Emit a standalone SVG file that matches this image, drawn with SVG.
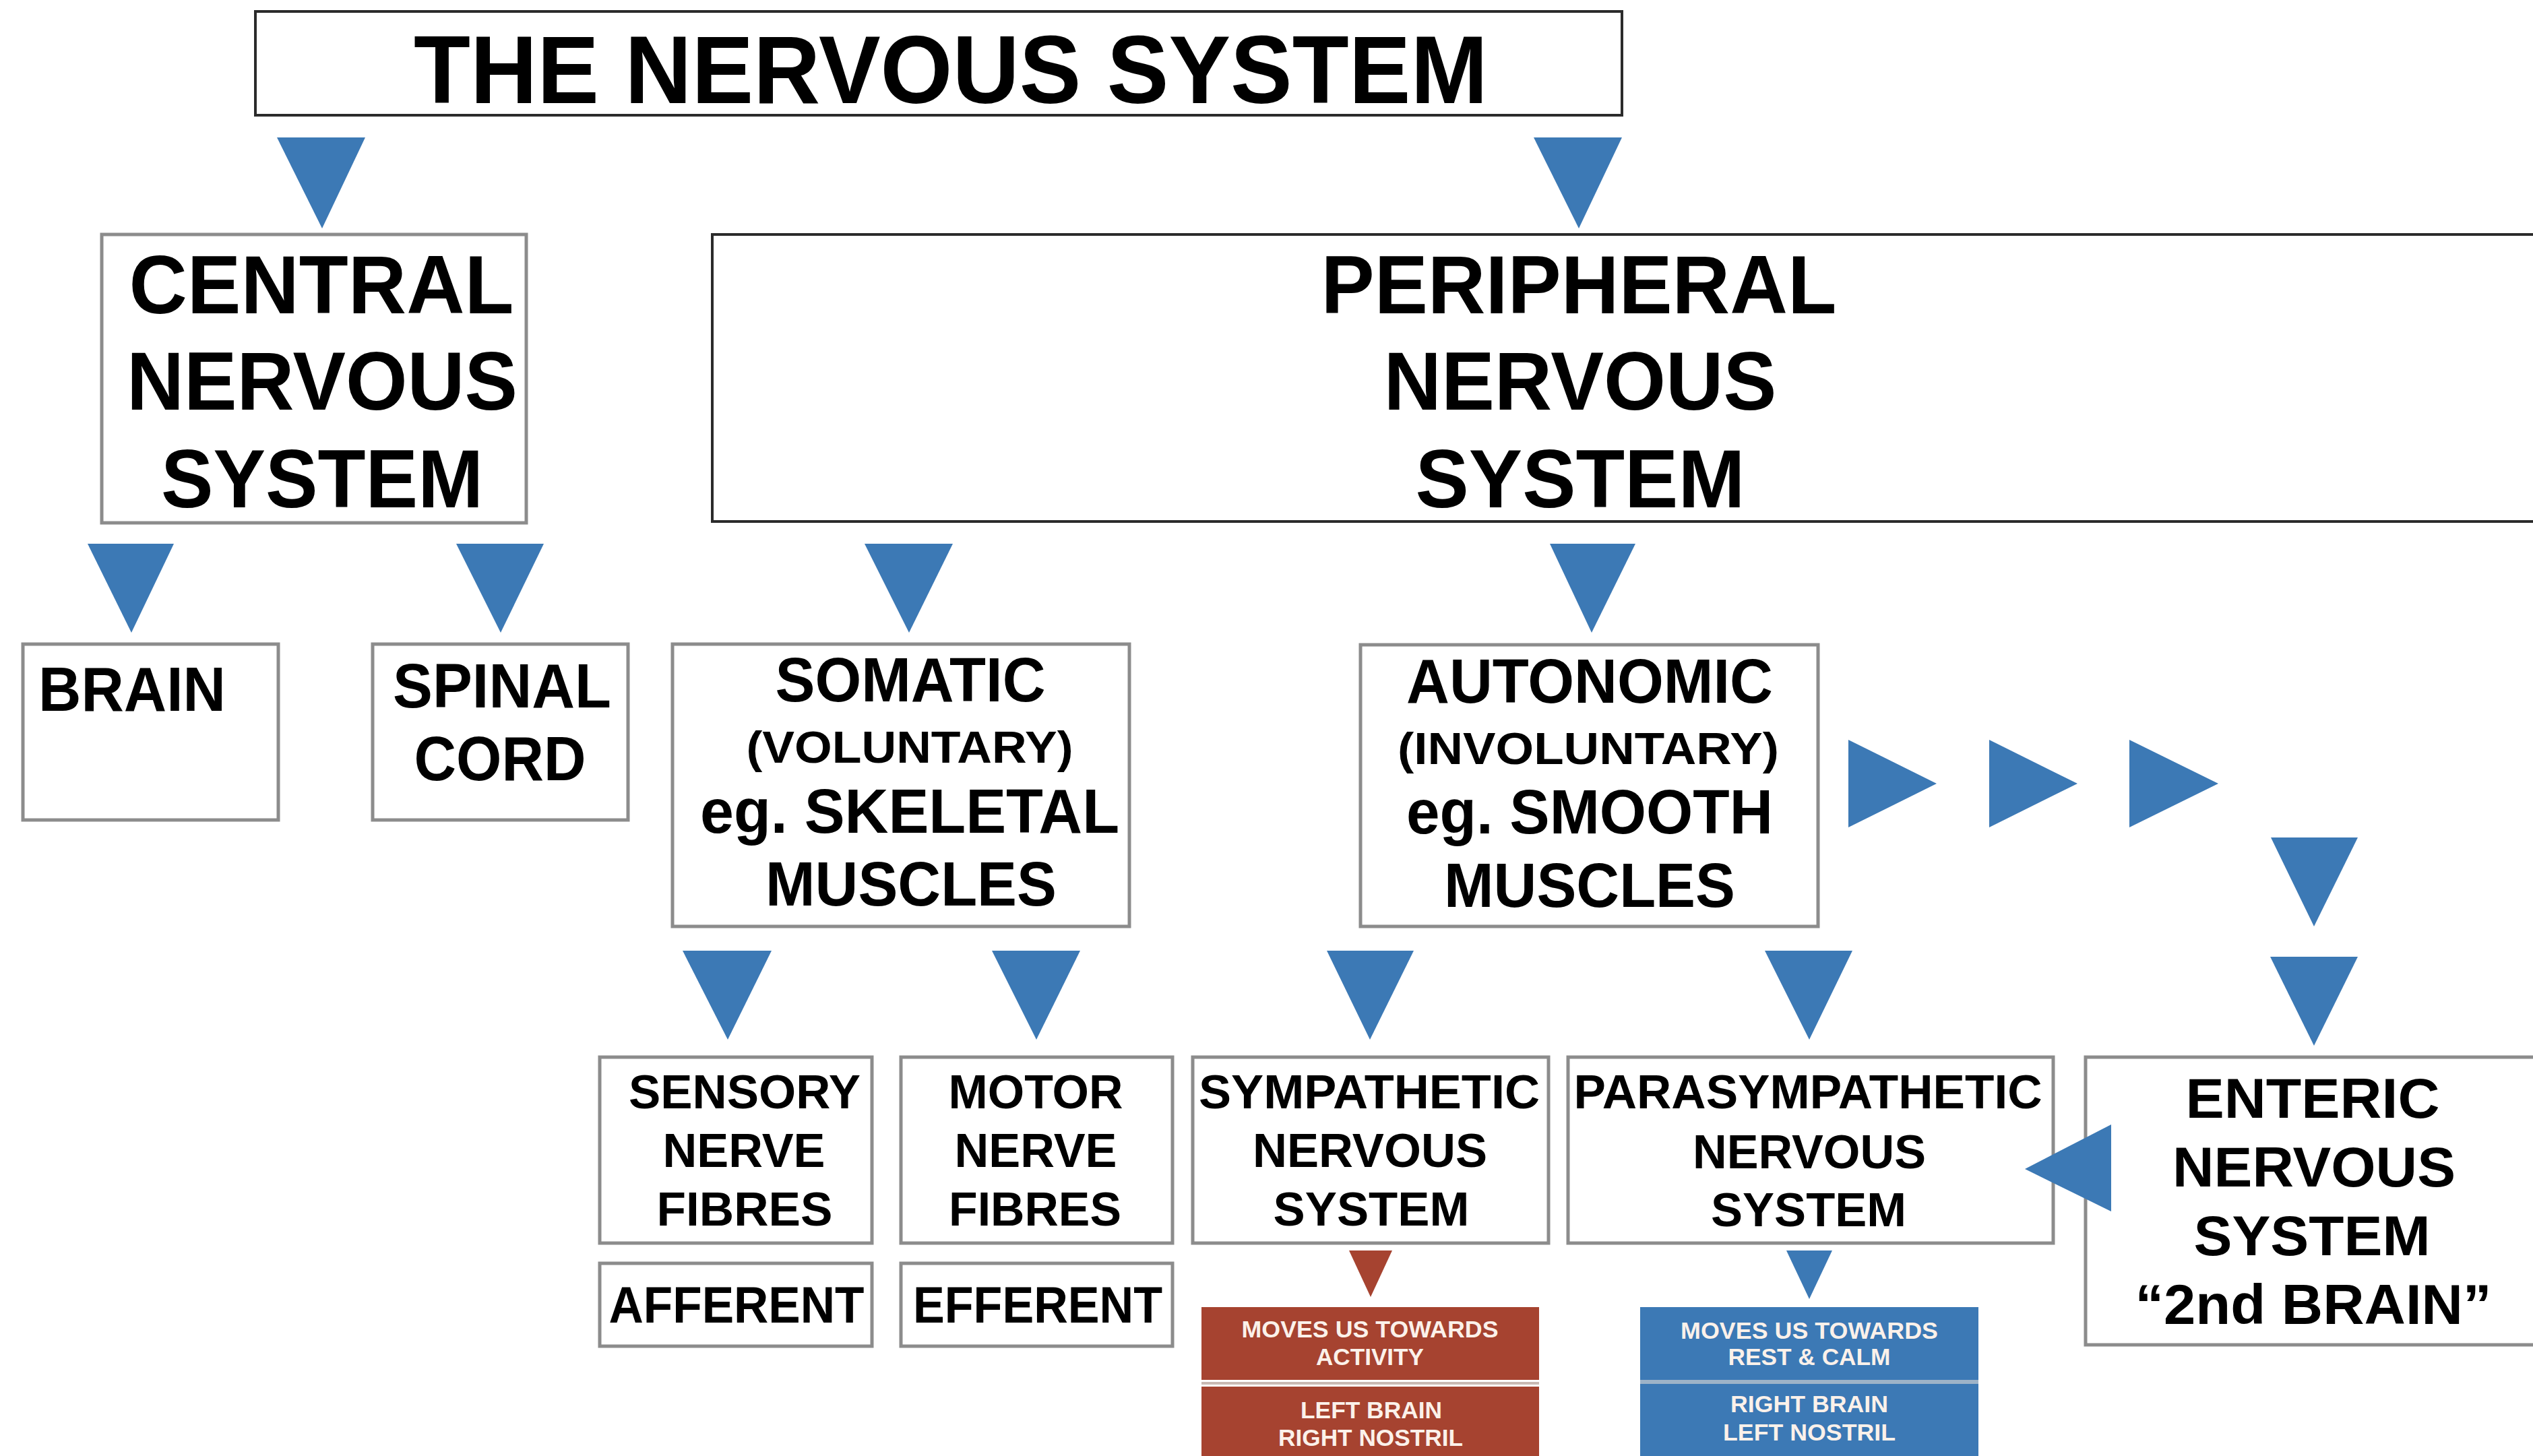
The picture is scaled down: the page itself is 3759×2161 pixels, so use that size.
<svg xmlns="http://www.w3.org/2000/svg" width="3759" height="2161" viewBox="0 0 3759 2161">
<style>
.box{fill:#fff;stroke:#8c8c8c;stroke-width:5}
.dark{fill:#fff;stroke:#2b2b2b;stroke-width:4}
.t{font-family:"Liberation Sans",Arial,sans-serif;font-weight:bold;text-anchor:middle;fill:#000}
.s{font-family:"Liberation Sans",Arial,sans-serif;font-weight:bold;text-anchor:middle;fill:#fbf1ea;font-size:35px}
.arrow{fill:#3C79B5}
.red{fill:#A64330}
.blue{fill:#3C79B5}
</style>
<rect width="3759" height="2161" fill="#fff"/>
<g id="title">
<rect class="dark" x="379" y="17" width="2028" height="154"/>
<text class="t" x="1411" y="153" font-size="142" textLength="1594" lengthAdjust="spacingAndGlyphs">THE NERVOUS SYSTEM</text>
</g>
<g id="cns">
<rect class="box" x="151" y="348" width="630" height="428"/>
<text class="t" x="477" y="465" font-size="123" textLength="571" lengthAdjust="spacingAndGlyphs">CENTRAL</text>
<text class="t" x="478" y="608" font-size="123" textLength="580" lengthAdjust="spacingAndGlyphs">NERVOUS</text>
<text class="t" x="478" y="753" font-size="123" textLength="478" lengthAdjust="spacingAndGlyphs">SYSTEM</text>
</g>
<g id="pns">
<rect class="dark" x="1057" y="348" width="2750" height="426"/>
<text class="t" x="2343" y="465" font-size="123" textLength="765" lengthAdjust="spacingAndGlyphs">PERIPHERAL</text>
<text class="t" x="2345" y="608" font-size="123" textLength="583" lengthAdjust="spacingAndGlyphs">NERVOUS</text>
<text class="t" x="2345" y="753" font-size="123" textLength="489" lengthAdjust="spacingAndGlyphs">SYSTEM</text>
</g>
<g id="brain">
<rect class="box" x="34" y="956" width="379" height="261"/>
<text class="t" x="196" y="1055" font-size="92" textLength="278" lengthAdjust="spacingAndGlyphs">BRAIN</text>
</g>
<g id="spinal-cord">
<rect class="box" x="553" y="956" width="379" height="261"/>
<text class="t" x="745" y="1050" font-size="92" textLength="324" lengthAdjust="spacingAndGlyphs">SPINAL</text>
<text class="t" x="742" y="1158" font-size="92" textLength="255" lengthAdjust="spacingAndGlyphs">CORD</text>
</g>
<g id="somatic">
<rect class="box" x="998" y="956" width="678" height="419"/>
<text class="t" x="1351" y="1041" font-size="92" textLength="401" lengthAdjust="spacingAndGlyphs">SOMATIC</text>
<text class="t" x="1350" y="1132" font-size="67" textLength="485" lengthAdjust="spacingAndGlyphs">(VOLUNTARY)</text>
<text class="t" x="1350" y="1236" font-size="92" textLength="622" lengthAdjust="spacingAndGlyphs">eg. SKELETAL</text>
<text class="t" x="1352" y="1344" font-size="92" textLength="432" lengthAdjust="spacingAndGlyphs">MUSCLES</text>
</g>
<g id="autonomic">
<rect class="box" x="2019" y="957" width="679" height="418"/>
<text class="t" x="2359" y="1043" font-size="92" textLength="544" lengthAdjust="spacingAndGlyphs">AUTONOMIC</text>
<text class="t" x="2357" y="1134" font-size="67" textLength="566" lengthAdjust="spacingAndGlyphs">(INVOLUNTARY)</text>
<text class="t" x="2359" y="1237" font-size="92" textLength="544" lengthAdjust="spacingAndGlyphs">eg. SMOOTH</text>
<text class="t" x="2359" y="1346" font-size="92" textLength="432" lengthAdjust="spacingAndGlyphs">MUSCLES</text>
</g>
<g id="sensory">
<rect class="box" x="890" y="1569" width="404" height="276"/>
<text class="t" x="1105" y="1645" font-size="70" textLength="344" lengthAdjust="spacingAndGlyphs">SENSORY</text>
<text class="t" x="1104" y="1732" font-size="70" textLength="241" lengthAdjust="spacingAndGlyphs">NERVE</text>
<text class="t" x="1105" y="1819" font-size="70" textLength="261" lengthAdjust="spacingAndGlyphs">FIBRES</text>
</g>
<g id="motor">
<rect class="box" x="1337" y="1569" width="403" height="276"/>
<text class="t" x="1537" y="1645" font-size="70" textLength="259" lengthAdjust="spacingAndGlyphs">MOTOR</text>
<text class="t" x="1537" y="1732" font-size="70" textLength="241" lengthAdjust="spacingAndGlyphs">NERVE</text>
<text class="t" x="1536" y="1819" font-size="70" textLength="256" lengthAdjust="spacingAndGlyphs">FIBRES</text>
</g>
<g id="sympathetic">
<rect class="box" x="1770" y="1569" width="528" height="276"/>
<text class="t" x="2032" y="1645" font-size="70" textLength="506" lengthAdjust="spacingAndGlyphs">SYMPATHETIC</text>
<text class="t" x="2033" y="1732" font-size="70" textLength="348" lengthAdjust="spacingAndGlyphs">NERVOUS</text>
<text class="t" x="2035" y="1819" font-size="70" textLength="291" lengthAdjust="spacingAndGlyphs">SYSTEM</text>
</g>
<g id="parasympathetic">
<rect class="box" x="2327" y="1569" width="720" height="276"/>
<text class="t" x="2683" y="1645" font-size="70" textLength="695" lengthAdjust="spacingAndGlyphs">PARASYMPATHETIC</text>
<text class="t" x="2685" y="1734" font-size="70" textLength="346" lengthAdjust="spacingAndGlyphs">NERVOUS</text>
<text class="t" x="2684" y="1820" font-size="70" textLength="290" lengthAdjust="spacingAndGlyphs">SYSTEM</text>
</g>
<g id="enteric">
<rect class="box" x="3095" y="1569" width="700" height="427"/>
<text class="t" x="3432" y="1659" font-size="84" textLength="377" lengthAdjust="spacingAndGlyphs">ENTERIC</text>
<text class="t" x="3434" y="1761" font-size="84" textLength="420" lengthAdjust="spacingAndGlyphs">NERVOUS</text>
<text class="t" x="3431" y="1863" font-size="84" textLength="351" lengthAdjust="spacingAndGlyphs">SYSTEM</text>
<text class="t" x="3433" y="1965" font-size="84" textLength="529" lengthAdjust="spacingAndGlyphs">“2nd BRAIN”</text>
</g>
<g id="afferent">
<rect class="box" x="890" y="1875" width="404" height="123"/>
<text class="t" x="1093" y="1963" font-size="76" textLength="379" lengthAdjust="spacingAndGlyphs">AFFERENT</text>
</g>
<g id="efferent">
<rect class="box" x="1337" y="1875" width="403" height="123"/>
<text class="t" x="1540" y="1963" font-size="76" textLength="370" lengthAdjust="spacingAndGlyphs">EFFERENT</text>
</g>
<g id="sympathetic-activity">
<rect class="red" x="1783" y="1940" width="501" height="108"/>
<text class="s" x="2033" y="1985" textLength="381" lengthAdjust="spacingAndGlyphs">MOVES US TOWARDS</text>
<text class="s" x="2033" y="2026" textLength="160" lengthAdjust="spacingAndGlyphs">ACTIVITY</text>
</g>
<line x1="1783" y1="2053" x2="2284" y2="2053" stroke="#c9b9b3" stroke-width="4"/>
<g id="sympathetic-brain">
<rect class="red" x="1783" y="2058" width="501" height="110"/>
<text class="s" x="2035" y="2105" textLength="210" lengthAdjust="spacingAndGlyphs">LEFT BRAIN</text>
<text class="s" x="2034" y="2146" textLength="274" lengthAdjust="spacingAndGlyphs">RIGHT NOSTRIL</text>
</g>
<g id="parasympathetic-rest">
<rect class="blue" x="2434" y="1940" width="502" height="108"/>
<text class="s" x="2685" y="1987" textLength="382" lengthAdjust="spacingAndGlyphs">MOVES US TOWARDS</text>
<text class="s" x="2685" y="2026" textLength="241" lengthAdjust="spacingAndGlyphs">REST &amp; CALM</text>
</g>
<line x1="2434" y1="2051" x2="2936" y2="2051" stroke="#9db3c8" stroke-width="6"/>
<g id="parasympathetic-brain">
<rect class="blue" x="2434" y="2054" width="502" height="112"/>
<text class="s" x="2685" y="2096" textLength="234" lengthAdjust="spacingAndGlyphs">RIGHT BRAIN</text>
<text class="s" x="2685" y="2138" textLength="256" lengthAdjust="spacingAndGlyphs">LEFT NOSTRIL</text>
</g>
<g id="connectors">
<polygon class="arrow" points="411,204 542,204 478,339"/>
<polygon class="arrow" points="2276,204 2407,204 2343,339"/>
<polygon class="arrow" points="130,807 258,807 195,939"/>
<polygon class="arrow" points="677,807 807,807 743,939"/>
<polygon class="arrow" points="1283,807 1414,807 1349,939"/>
<polygon class="arrow" points="2300,807 2427,807 2362,939"/>
<polygon class="arrow" points="2743,1098 2743,1228 2874,1163"/>
<polygon class="arrow" points="2952,1098 2952,1228 3083,1163"/>
<polygon class="arrow" points="3160,1098 3160,1228 3292,1163"/>
<polygon class="arrow" points="3370,1243 3499,1243 3434,1375"/>
<polygon class="arrow" points="1013,1411 1145,1411 1080,1543"/>
<polygon class="arrow" points="1472,1411 1603,1411 1538,1543"/>
<polygon class="arrow" points="1969,1411 2098,1411 2033,1543"/>
<polygon class="arrow" points="2619,1411 2749,1411 2685,1543"/>
<polygon class="arrow" points="3369,1420 3499,1420 3434,1552"/>
<polygon class="arrow" points="3133,1669 3133,1798 3005,1735"/>
<polygon class="red" points="2002,1856 2066,1856 2034,1925"/>
<polygon class="blue" points="2651,1856 2719,1856 2685,1928"/>
</g>
</svg>
